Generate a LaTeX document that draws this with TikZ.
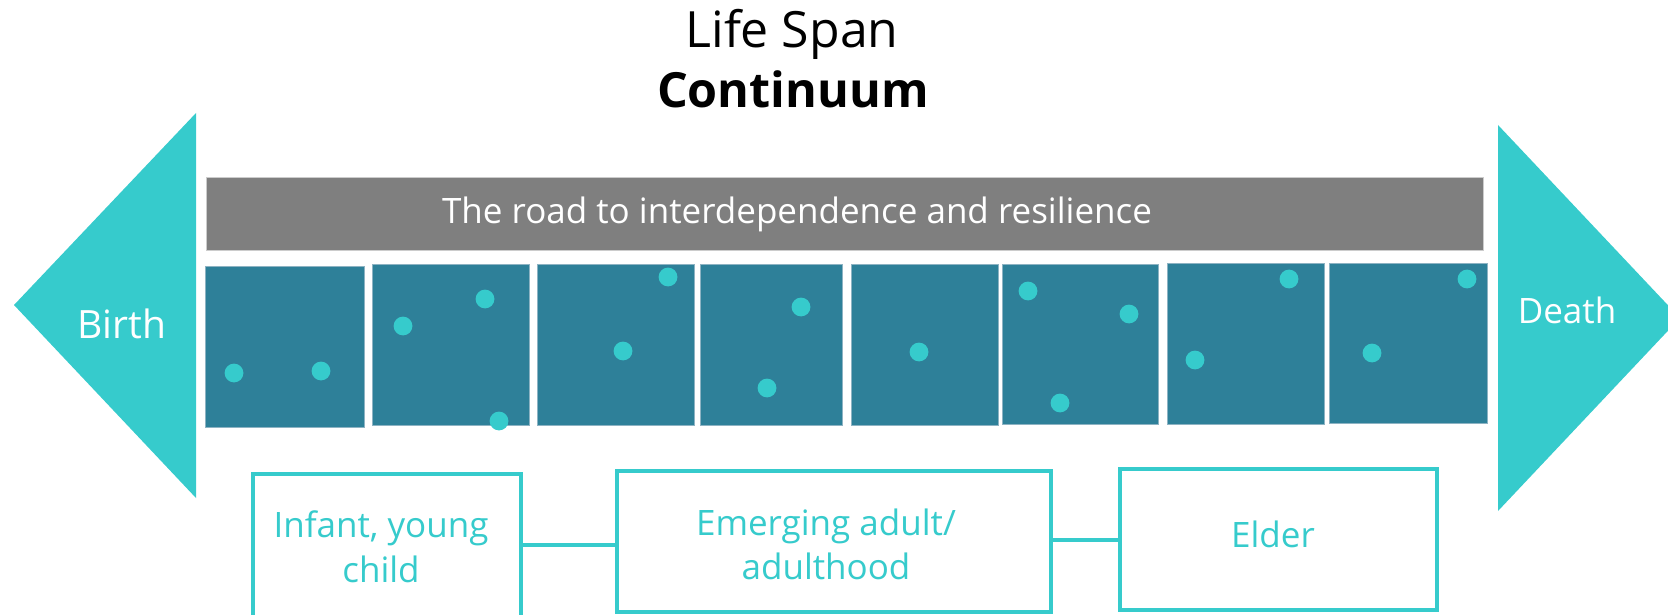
\documentclass[tikz,border=0pt]{standalone}
\usepackage{fontspec}
\setmainfont{Open Sans}
\definecolor{cyanc}{HTML}{36CBCC}
\definecolor{tealc}{HTML}{2E8099}
\definecolor{grayc}{HTML}{7F7F7F}
\definecolor{edgec}{HTML}{8DB3C3}
\tikzset{
  tbox/.style={rectangle, fill=tealc, draw=edgec, line width=1pt, inner sep=0pt, outer sep=0pt, anchor=north west},
  stagebox/.style={rectangle, draw=cyanc, line width=3.5pt, fill=white, inner sep=0pt, outer sep=0pt, anchor=north west},
  stagetxt/.style={text=cyanc, font=\fontsize{35}{42}\selectfont, anchor=base, inner sep=0pt},
  endtxt/.style={text=white, anchor=base, inner sep=0pt},
  dot/.style={fill=cyanc},
  link/.style={draw=cyanc, line width=4pt},
}
\begin{document}
\begin{tikzpicture}[x=1pt,y=-1pt]
\useasboundingbox (0,0) rectangle (1668,615);
\clip (0,0) rectangle (1668,615);
% title
\node[anchor=base, inner sep=0pt, font=\fontsize{50}{58}\selectfont] (t1) at (792,48) {Life Span};
\node[anchor=base, inner sep=0pt, font=\fontsize{48.5}{56}\selectfont\bfseries] (t2) at (793,108) {Continuum};
% end arrows
\fill[cyanc] (14,305) -- (196,113) -- (196,498) -- cycle;
\fill[cyanc] (1498,125) -- (1680,318) -- (1498,511) -- cycle;
\node[endtxt, font=\fontsize{39}{46}\selectfont] (birth) at (122,338) {Birth};
\node[endtxt, font=\fontsize{35}{42}\selectfont] (death) at (1567,323) {Death};
% grey bar
\node[rectangle, fill=grayc, draw=gray!40, line width=0.8pt, minimum width=1277, minimum height=73, anchor=north west, inner sep=0pt] (bar) at (206,177) {};
\node[anchor=base, inner sep=0pt, text=white, font=\fontsize{35}{42}\selectfont] (bartxt) at (797,223) {The road to interdependence and resilience};
% teal boxes
\node[tbox, minimum width=159, minimum height=161] (b1) at (205,266) {};
\node[tbox, minimum width=157, minimum height=161] (b2) at (372,264) {};
\node[tbox, minimum width=157, minimum height=161] (b3) at (537,264) {};
\node[tbox, minimum width=142, minimum height=161] (b4) at (700,264) {};
\node[tbox, minimum width=147, minimum height=161] (b5) at (851,264) {};
\node[tbox, minimum width=156, minimum height=160] (b6) at (1002,264) {};
\node[tbox, minimum width=157, minimum height=161] (b7) at (1167,263) {};
\node[tbox, minimum width=158, minimum height=160] (b8) at (1329,263) {};
% dots
\foreach \px/\py in {234/373, 321/371, 403/326, 485/299, 499/421, 668/277, 623/351,
  801/307, 767/388, 919/352, 1028/291, 1129/314, 1060/403, 1289/279, 1195/360,
  1467/279, 1372/353}
  \fill[dot] (\px,\py) circle[radius=9.4pt];
% stage boxes
\node[stagebox, minimum width=268, minimum height=170] (infant) at (253,474) {};
\node[stagebox, minimum width=434, minimum height=141] (emerg) at (617,471) {};
\node[stagebox, minimum width=317, minimum height=141] (elder) at (1120,469) {};
\node[stagetxt] (i1) at (381,537) {Infant, young};
\node[stagetxt] (i2) at (381,582) {child};
\node[stagetxt] (e1) at (826,535) {Emerging adult/};
\node[stagetxt] (e2) at (826,579) {adulthood};
\node[stagetxt] (el) at (1273,547) {Elder};
% connectors
\draw[link] ([yshift=-71pt]infant.north east) -- ([yshift=-74pt]emerg.north west);
\draw[link] ([yshift=-69pt]emerg.north east) -- ([yshift=-71pt]elder.north west);
\end{tikzpicture}
\end{document}
